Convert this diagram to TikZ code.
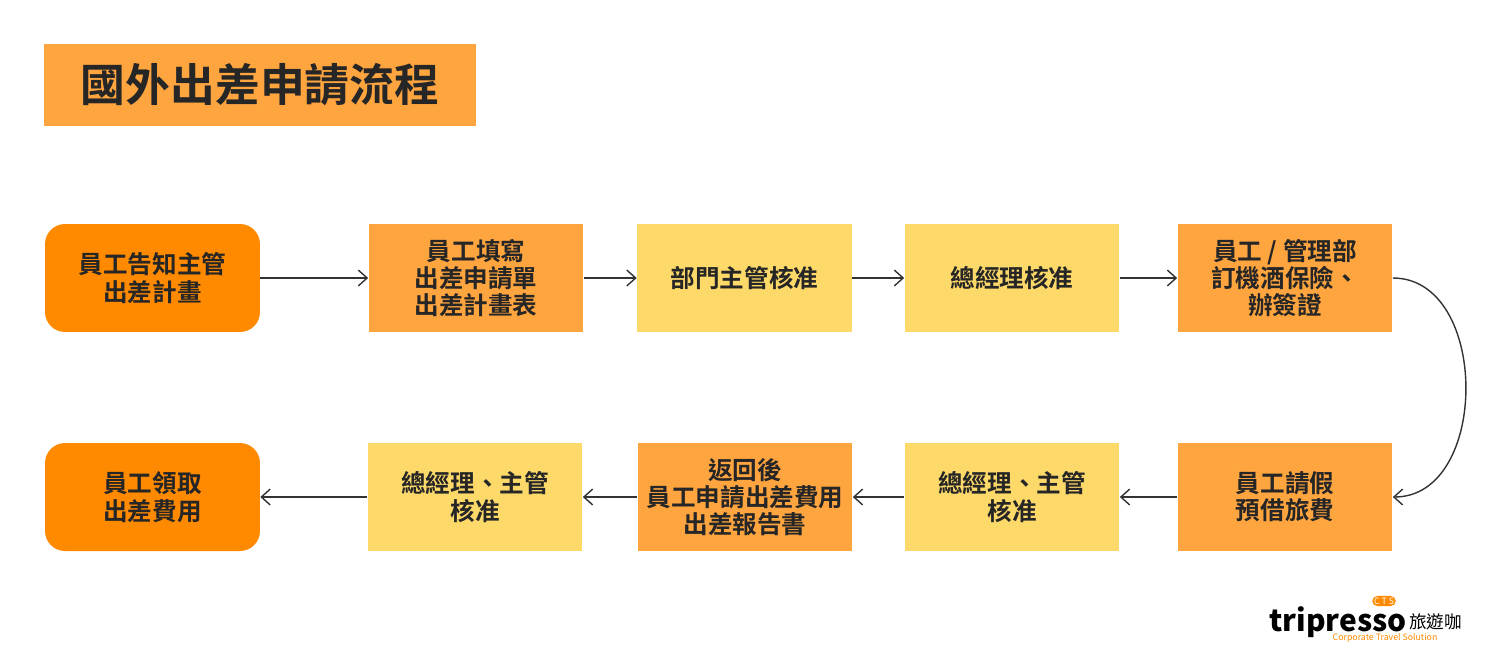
\documentclass[tikz,border=0pt]{standalone}
\usepackage{fontspec}
\setmainfont{Noto Sans CJK TC}
\newfontfamily\cjkbold{Noto Sans CJK TC Bold}
\usetikzlibrary{arrows.meta}
\definecolor{darkorg}{HTML}{FF8A00}
\definecolor{midorg}{HTML}{FFA53F}
\definecolor{softyel}{HTML}{FDD96A}
\definecolor{arrowgray}{HTML}{333333}

\begin{document}
\begin{tikzpicture}[x=0.02cm, y=-0.02cm,
    % 流程方塊
    stepbox/.style={minimum width=4.3cm, minimum height=2.16cm, inner sep=2pt, align=center,
        font=\cjkbold\fontsize{14}{15.5}\selectfont, text=black!85},
    endbox/.style={stepbox, fill=darkorg, rounded corners=0.4cm},
    orgbox/.style={stepbox, fill=midorg},
    yelbox/.style={stepbox, fill=softyel},
    flow/.style={draw=arrowgray, line width=0.8pt, -{Straight Barb[length=5pt,width=9pt]}}
]
    \useasboundingbox (0,0) rectangle (1497,667);
    % 標題
    \node [fill=midorg, minimum width=8.64cm, minimum height=1.64cm, font=\cjkbold\fontsize{25.5}{28}\selectfont, text=black!85] (title) at (260,85) {國外出差申請流程};

    % 第一列
    \node [endbox] (tell) at (152.5,278) {員工告知主管\\出差計畫};
    \node [orgbox] (fill) at (476,278) {員工填寫\\出差申請單\\出差計畫表};
    \node [yelbox] (dept) at (744.5,278) {部門主管核准};
    \node [yelbox] (gm) at (1012,278) {總經理核准};
    \node [orgbox] (book) at (1285,278) {員工 / 管理部\\訂機酒保險、\\辦簽證};

    % 第二列
    \node [orgbox] (leave) at (1285,497) {員工請假\\預借旅費};
    \node [yelbox] (gmboss) at (1012,497) {總經理、主管\\核准};
    \node [orgbox] (report) at (745,497) {返回後\\員工申請出差費用\\出差報告書};
    \node [yelbox] (okboss) at (475,497) {總經理、主管\\核准};
    \node [endbox] (claim) at (152.5,497) {員工領取\\出差費用};

    % 連線
    \draw [flow] (tell) -- (fill);
    \draw [flow] (fill) -- (dept);
    \draw [flow] (dept) -- (gm);
    \draw [flow] (gm) -- (book);
    \draw [flow] (book.east) .. controls (1490,278) and (1490,497) .. (leave.east);
    \draw [flow] (leave) -- (gmboss);
    \draw [flow] (gmboss) -- (report);
    \draw [flow] (report) -- (okboss);
    \draw [flow] (okboss) -- (claim);

    % 標誌
    \node [font=\bfseries\fontsize{17}{17}\selectfont, text=black, inner sep=0pt] (logo) at (1338,622) {tripresso};
    \node [anchor=west, font=\fontsize{10}{10}\selectfont, inner sep=1pt] (logozh) at (logo.east) {旅遊咖};
    \node [fill=darkorg, text=white, rounded corners=3pt, inner sep=1pt, font=\fontsize{5}{5}\selectfont] (cts) at (1384,601) {C T S};
    \node [text=darkorg, font=\fontsize{5}{6}\selectfont, inner sep=0pt] (slogan) at (1385,638) {Corporate Travel Solution};
\end{tikzpicture}
\end{document}
